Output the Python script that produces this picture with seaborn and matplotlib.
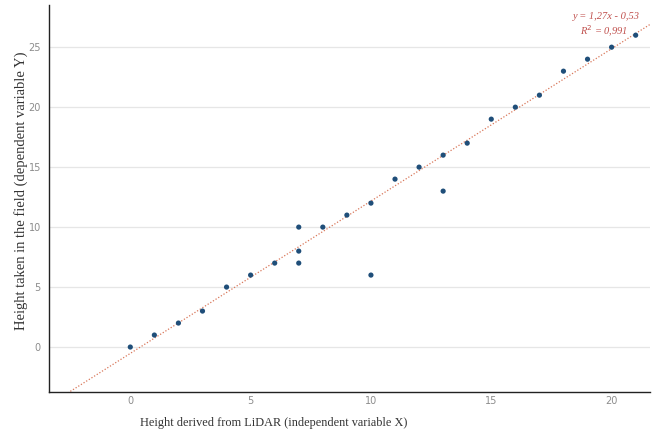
import numpy as np
import matplotlib
matplotlib.use("Agg")
import matplotlib.pyplot as plt
import seaborn as sns

# ── Data ──────────────────────────────────────────────────────────────────────
lidar_x = [0, 1, 2, 3, 4, 5, 6, 7, 7, 7, 8, 9, 10, 10, 11, 12, 13, 13,
           14, 15, 16, 17, 18, 19, 20, 21]
field_y = [0, 1, 2, 3, 5, 6, 7, 10, 8, 7, 10, 11, 12, 6, 14, 15, 16, 13,
           17, 19, 20, 21, 23, 24, 25, 26]
x_ticks = [0, 5, 10, 15, 20]
y_ticks = [0, 5, 10, 15, 20, 25]
eq_text = "y = 1,27x - 0,53"
r2_text = "R$^2$ = 0,991"

sns.set_theme(style="white")

fig = plt.figure(figsize=(6.56, 4.34), dpi=100)
ax = fig.add_axes([0.075, 0.097, 0.916, 0.891])

ax.set_xlim(-3.37, 21.6)
ax.set_ylim(-3.74, 28.5)

# trend line (dotted, spans the whole plot)
slope, intercept = 1.27, -0.53
xs = np.array([-3.37, 21.6])
ax.plot(xs, slope * xs + intercept, color="#d9775a", lw=0.9,
        linestyle=(0, (1, 1.5)), zorder=2)

sns.scatterplot(x=lidar_x, y=field_y, ax=ax, color="#1f4e79", s=14,
                edgecolor="none", zorder=3)

ax.set_xticks(x_ticks)
ax.set_yticks(y_ticks)
ax.tick_params(axis="both", length=0, labelsize=7, labelcolor="#8c8c8c")
ax.tick_params(axis="x", pad=3)
ax.tick_params(axis="y", pad=6)
ax.grid(True, axis="y", color="#e6e6e6", lw=0.9)
ax.grid(False, axis="x")

for s in ["top", "right"]:
    ax.spines[s].set_visible(False)
for s in ["left", "bottom"]:
    ax.spines[s].set_color("#222222")
    ax.spines[s].set_linewidth(1.0)

ax.set_ylabel("Height taken in the field (dependent variable Y)",
              family="Liberation Serif", fontsize=10.5, color="#333333")
ax.yaxis.set_label_coords(-0.036, 0.52)
ax.set_xlabel("")
fig.text(0.213, 0.012, "Height derived from LiDAR (independent variable X)",
         family="Liberation Serif", fontsize=8.8, color="#333333",
         ha="left", va="bottom")

fig.text(0.976, 0.962, eq_text, family="Liberation Serif", style="italic",
         fontsize=7.5, color="#c0504d", ha="right", va="center")
fig.text(0.957, 0.928, r2_text, family="Liberation Serif", style="italic",
         fontsize=7.5, color="#c0504d", ha="right", va="center")

fig.savefig("out.png", dpi=100)
